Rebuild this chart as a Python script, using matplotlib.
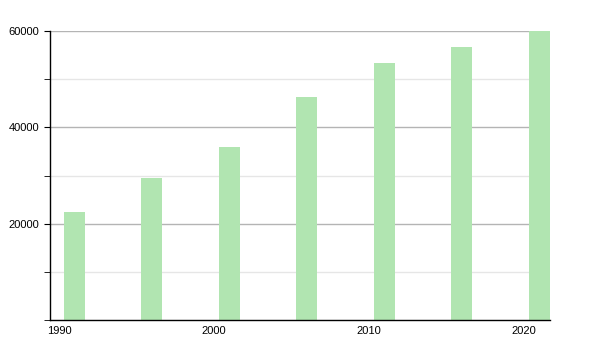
import matplotlib
matplotlib.use("Agg")
import matplotlib.pyplot as plt
from matplotlib.ticker import MultipleLocator

# 数据
years = [1991, 1996, 2001, 2006, 2011, 2016, 2021]
values = [22400, 29500, 36000, 46300, 53300, 56700, 59900]

plt.rcParams["font.family"] = ["Liberation Sans", "DejaVu Sans"]

fig = plt.figure(figsize=(6, 3.5), dpi=100)
ax = fig.add_axes([50 / 600, 30 / 350, 500 / 600, 289 / 350])

ax.bar(years, values, width=1.36, color="#b1e5b1", zorder=2)

ax.set_xlim(1989.42, 2021.7)
ax.set_ylim(0, 60000)
ax.set_xticks([1990, 2000, 2010, 2020])
ax.set_yticks([20000, 40000, 60000])
ax.yaxis.set_minor_locator(MultipleLocator(10000))

ax.grid(axis="y", which="major", color="#b4b4b4", linewidth=1, zorder=1)
ax.grid(axis="y", which="minor", color="#e6e6e6", linewidth=1, zorder=1)

for s in ["top", "right"]:
    ax.spines[s].set_visible(False)
ax.spines["left"].set_linewidth(1)
ax.spines["bottom"].set_linewidth(1)

ax.tick_params(axis="x", length=0, pad=4, labelsize=8)
ax.tick_params(axis="y", which="major", length=4, pad=4, labelsize=8)
ax.tick_params(axis="y", which="minor", length=4)

fig.savefig("out.png", dpi=100)
